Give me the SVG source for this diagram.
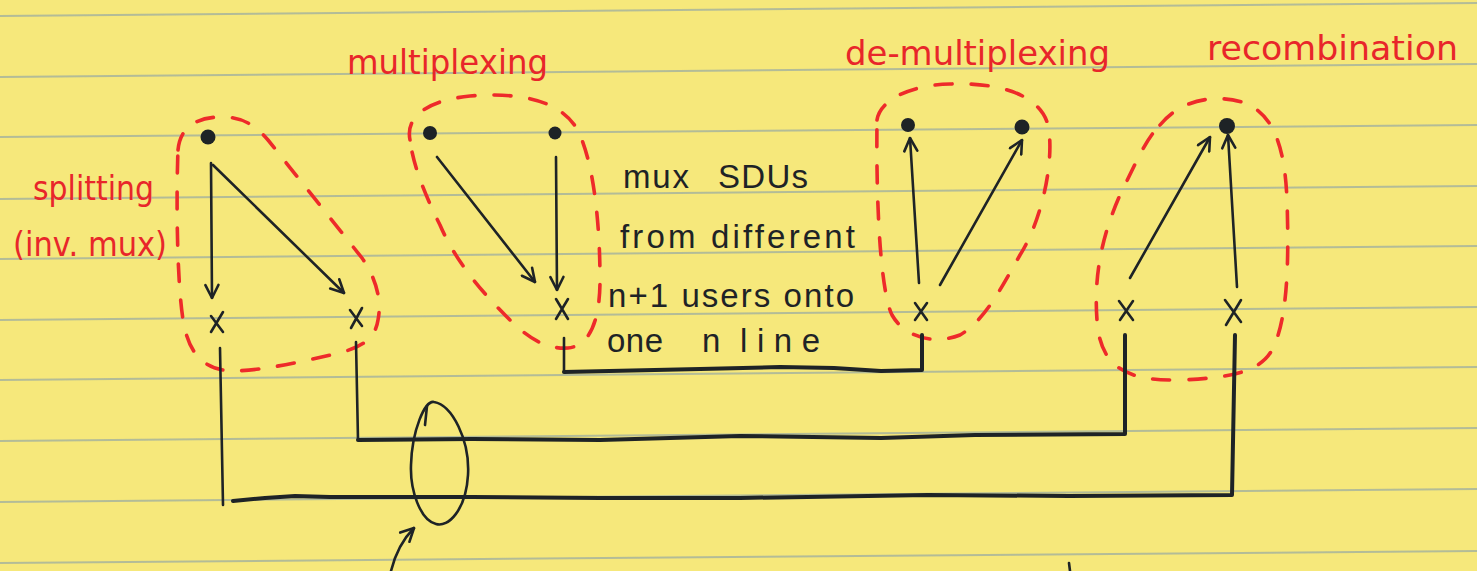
<svg xmlns="http://www.w3.org/2000/svg" width="1477" height="571" viewBox="0 0 1477 571">
  <defs>
    <marker id="ah" viewBox="0 0 16 16" refX="15" refY="8" markerWidth="16" markerHeight="16" markerUnits="userSpaceOnUse" orient="auto">
      <path d="M2,1.5 L15,8 L2,14.5" fill="none" stroke="#1e2326" stroke-width="2.6" stroke-linecap="round" stroke-linejoin="round"/>
    </marker>
    <style>
      .rule { stroke: #a2b09f; stroke-width: 2; fill: none; opacity: 0.8; }
      .ink { stroke: #1e2326; stroke-width: 2.6; fill: none; stroke-linecap: round; stroke-linejoin: round; }
      .bus { stroke: #1e2326; stroke-width: 4; fill: none; stroke-linecap: round; stroke-linejoin: round; }
      .arrow { stroke: #1e2326; stroke-width: 2.6; fill: none; stroke-linecap: round; marker-end: url(#ah); }
      .dot { fill: #1e2326; }
      .group { stroke: #ee2a2a; stroke-width: 3.6; fill: none; stroke-dasharray: 17 19; stroke-linecap: round; }
      .red { fill: #e8262a; font-family: "DejaVu Sans", "Liberation Sans", sans-serif; font-size: 34px; }
      .note { fill: #1e2326; font-family: "Liberation Sans", "DejaVu Sans", sans-serif; font-size: 33px; }
    </style>
  </defs>

  <!-- legal pad paper -->
  <rect x="0" y="0" width="1477" height="571" fill="#f6e87b"/>
  <g id="paper-rules">
    <path class="rule" d="M0,16 L1477,3"/>
    <path class="rule" d="M0,77 L1477,64"/>
    <path class="rule" d="M0,137 L1477,125"/>
    <path class="rule" d="M0,199 L1477,186"/>
    <path class="rule" d="M0,259 L1477,246"/>
    <path class="rule" d="M0,320 L1477,307"/>
    <path class="rule" d="M0,380 L1477,367"/>
    <path class="rule" d="M0,441 L1477,428"/>
    <path class="rule" d="M0,502 L1477,489"/>
    <path class="rule" d="M0,563 L1477,551"/>
  </g>

  <!-- splitting (inverse multiplexing) -->
  <g id="node-splitting">
    <path class="group" d="M178,150 C180,128 195,117 222,117 C245,117 258,128 268,140 L362,258 C376,278 382,300 378,320 C375,340 360,348 335,354 C300,362 265,370 235,371 C205,371 190,355 184,325 C177,290 176,200 178,150 Z"/>
    <circle class="dot" cx="208" cy="137" r="7.5"/>
    <path class="ink" d="M211,316 L223,332 M223,312 L211,332"/>
    <path class="ink" d="M350,310 L362,326 M362,308 L351,328"/>
    <text class="red" x="33" y="200" textLength="121" lengthAdjust="spacingAndGlyphs">splitting</text>
    <text class="red" x="13" y="256" textLength="154" lengthAdjust="spacingAndGlyphs">(inv. mux)</text>
  </g>

  <!-- multiplexing -->
  <g id="node-multiplexing">
    <path class="group" d="M410,140 C405,115 430,100 470,96 C520,92 565,100 580,135 C595,170 600,230 600,280 C600,320 590,346 568,348 C540,350 520,330 505,315 C480,290 455,260 440,225 C425,195 413,165 410,140 Z"/>
    <circle class="dot" cx="430" cy="133" r="7"/>
    <circle class="dot" cx="555" cy="133" r="6.5"/>
    <path class="ink" d="M556,299 L568,319 M568,299 L556,319"/>
    <text class="red" x="347" y="74" textLength="201" lengthAdjust="spacingAndGlyphs">multiplexing</text>
  </g>

  <!-- de-multiplexing -->
  <g id="node-demultiplexing">
    <path class="group" d="M877,120 C880,100 910,85 950,84 C1000,82 1040,95 1048,125 C1055,160 1042,220 1020,255 C1000,290 985,320 960,335 C935,345 905,338 892,315 C880,290 876,200 877,120 Z"/>
    <circle class="dot" cx="908" cy="125" r="7"/>
    <circle class="dot" cx="1022" cy="127" r="7.5"/>
    <path class="ink" d="M915,303 L927,320 M927,303 L915,320"/>
    <text class="red" x="845" y="65" textLength="265" lengthAdjust="spacingAndGlyphs">de-multiplexing</text>
  </g>

  <!-- recombination -->
  <g id="node-recombination">
    <path class="group" d="M1160,125 C1180,100 1215,93 1245,103 C1275,115 1285,150 1287,200 C1289,260 1288,320 1272,350 C1260,372 1230,378 1180,380 C1130,381 1100,370 1097,320 C1094,280 1100,240 1120,195 C1135,165 1145,140 1160,125 Z"/>
    <circle class="dot" cx="1227" cy="126" r="8"/>
    <path class="ink" d="M1119,301 L1133,320 M1133,301 L1120,320"/>
    <path class="ink" d="M1225,300 L1241,322 M1241,300 L1226,325"/>
    <text class="red" x="1207" y="60" textLength="251" lengthAdjust="spacingAndGlyphs">recombination</text>
  </g>

  <!-- explanatory note -->
  <g id="note">
    <text class="note" y="188"><tspan x="623" textLength="66" lengthAdjust="spacing">mux</tspan><tspan x="718" textLength="90" lengthAdjust="spacing">SDUs</tspan></text>
    <text class="note" x="620" y="248" textLength="235" lengthAdjust="spacing">from different</text>
    <text class="note" x="608" y="307" textLength="246" lengthAdjust="spacing">n+1 users onto</text>
    <text class="note" y="352"><tspan x="607" textLength="56" lengthAdjust="spacing">one</tspan><tspan x="702">n</tspan><tspan x="740" textLength="80" lengthAdjust="spacing">line</tspan></text>
  </g>

  <!-- connectors: arrows inside each group and the n-level lines between them -->
  <g id="connectors">
    <path class="arrow" d="M211,163 L212,298"/>
    <path class="arrow" d="M213,165 L344,293"/>
    <path class="arrow" d="M437,157 L535,282"/>
    <path class="arrow" d="M556,157 L557,290"/>
    <path class="arrow" d="M919,283 L910,138"/>
    <path class="arrow" d="M940,285 L1022,140"/>
    <path class="arrow" d="M1130,278 L1210,137"/>
    <path class="arrow" d="M1237,287 L1228,135"/>

    <path class="ink" d="M564,338 L564,372"/>
    <path class="bus" d="M564,372 L700,369 L780,367 L834,368 L881,371 L922,370 L922,335"/>
    <path class="ink" d="M356,342 L358,440"/>
    <path class="bus" d="M358,440 L472,439 L600,440 L740,436 L881,438 L975,435 L1125,434 L1125,335"/>
    <path class="ink" d="M220,348 L223,505"/>
    <path class="bus" d="M233,501 L265,498 L295,496 L330,497 L410,497 L472,497 L600,498 L740,498 L928,495 L1069,496 L1232,495 L1235,335"/>

    <!-- bundle ring around the two lower lines -->
    <path class="ink" d="M434,402 C452,405 470,440 468,475 C466,510 448,528 436,524 C420,520 410,490 411,465 C412,430 425,400 434,402 Z"/>
    <path class="ink" d="M427,406 L425,425"/>
    <path class="arrow" d="M391,571 C395,555 402,540 414,528"/>
    <path class="ink" d="M1069,563 L1070,571"/>
  </g>
</svg>
